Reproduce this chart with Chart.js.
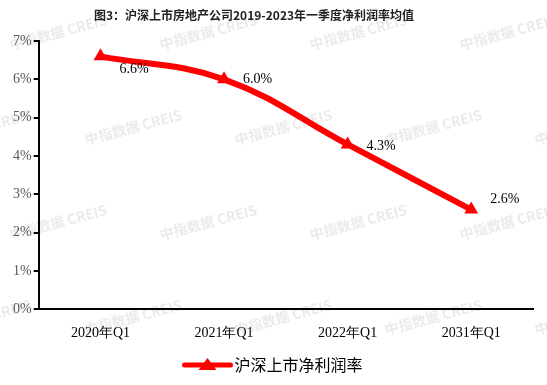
<!DOCTYPE html>
<html>
<head>
<meta charset="utf-8">
<script src="https://cdn.jsdelivr.net/npm/chart.js@4"></script>
<style>
  html, body { margin: 0; padding: 0; background: #fff; }
  #wrap { width: 547px; height: 385px; }
</style>
</head>
<body>
<div id="wrap"><canvas id="c" width="547" height="385"></canvas></div>
<script>
const TITLE = "图3：沪深上市房地产公司2019-2023年一季度净利润率均值";
const QUARTERS = ["2020年Q1", "2021年Q1", "2022年Q1", "2031年Q1"];
const MARGIN = [6.6, 6.0, 4.3, 2.6];
const SERIES_NAME = "沪深上市净利润率";
const Y_TICKS = [0, 1, 2, 3, 4, 5, 6, 7];

const RED = "#ff0000";
const SERIF = "'Liberation Serif', 'Times New Roman', serif";
const CJK = "'Noto Sans CJK SC', sans-serif";
// vertical nudge of each value label, as in the source picture
const LABEL_DY = [13, 0, 2, -10];

// ====== watermark + title, behind everything ======
const background = {
  id: "background",
  beforeDraw(chart) {
    const ctx = chart.ctx;
    ctx.save();
    ctx.fillStyle = "rgba(215,215,215,0.5)";
    ctx.font = "bold 14px " + CJK;
    ctx.textBaseline = "middle";
    for (let row = 0; row < 5; row++) {
      for (let col = -1; col < 4; col++) {
        const x = col * 150 + (row % 2) * 75 + 10;
        const y = row * 95 + 45;
        ctx.save();
        ctx.translate(x, y);
        ctx.rotate(-0.26);
        ctx.fillText("中指数据 CREIS", 0, 0);
        ctx.restore();
      }
    }
    ctx.fillStyle = "#222";
    ctx.font = "bold 12px " + CJK;
    ctx.textAlign = "center";
    ctx.fillText(TITLE, 254, 15);
    ctx.restore();
  }
};

// ====== value labels + custom legend ======
const extras = {
  id: "extras",
  afterDatasetsDraw(chart) {
    const ctx = chart.ctx;
    const meta = chart.getDatasetMeta(0);
    ctx.save();
    ctx.fillStyle = "#000";
    ctx.font = "14px " + SERIF;
    ctx.textBaseline = "middle";
    ctx.textAlign = "left";
    meta.data.forEach((pt, i) => {
      ctx.fillText(MARGIN[i].toFixed(1) + "%", pt.x + 19, pt.y + LABEL_DY[i]);
    });

    // legend
    const cx = chart.width / 2 - 63, cy = 365;
    ctx.strokeStyle = RED;
    ctx.lineWidth = 5;
    ctx.lineCap = "round";
    ctx.beginPath();
    ctx.moveTo(cx - 26, cy);
    ctx.lineTo(cx + 20, cy);
    ctx.stroke();
    ctx.fillStyle = RED;
    ctx.beginPath();
    ctx.moveTo(cx - 3, cy - 7);
    ctx.lineTo(cx + 6, cy + 5);
    ctx.lineTo(cx - 12, cy + 5);
    ctx.closePath();
    ctx.fill();
    ctx.fillStyle = "#000";
    ctx.font = "16px " + CJK;
    ctx.fillText(SERIES_NAME, cx + 24, cy);
    ctx.restore();
  }
};

const ctx = document.getElementById("c").getContext("2d");
new Chart(ctx, {
  type: "line",
  data: {
    labels: QUARTERS,
    datasets: [{
      label: SERIES_NAME,
      data: MARGIN,
      borderColor: RED,
      backgroundColor: RED,
      borderWidth: 6,
      tension: 0.4,
      pointStyle: "triangle",
      pointRadius: 8,
      pointHoverRadius: 8,
      pointBorderWidth: 0,
      pointBackgroundColor: RED
    }]
  },
  options: {
    responsive: false,
    animation: false,
    layout: { padding: { left: 11, right: 14, top: 41, bottom: 35 } },
    plugins: {
      legend: { display: false },
      tooltip: { enabled: false },
      title: { display: false }
    },
    scales: {
      x: {
        offset: true,
        grid: { display: false },
        border: { color: "#000", width: 2 },
        ticks: { color: "#000", font: { family: SERIF, size: 14 }, padding: 8 }
      },
      y: {
        min: 0,
        max: 7,
        afterBuildTicks(axis) { axis.ticks = Y_TICKS.map(v => ({ value: v })); },
        grid: { drawOnChartArea: false, drawTicks: true, tickLength: 5, color: "#000", lineWidth: 2 },
        border: { color: "#000", width: 2 },
        ticks: {
          color: "#595959",
          font: { family: SERIF, size: 14 },
          padding: 2,
          callback: v => v + "%"
        }
      }
    }
  },
  plugins: [background, extras]
});
</script>
</body>
</html>
